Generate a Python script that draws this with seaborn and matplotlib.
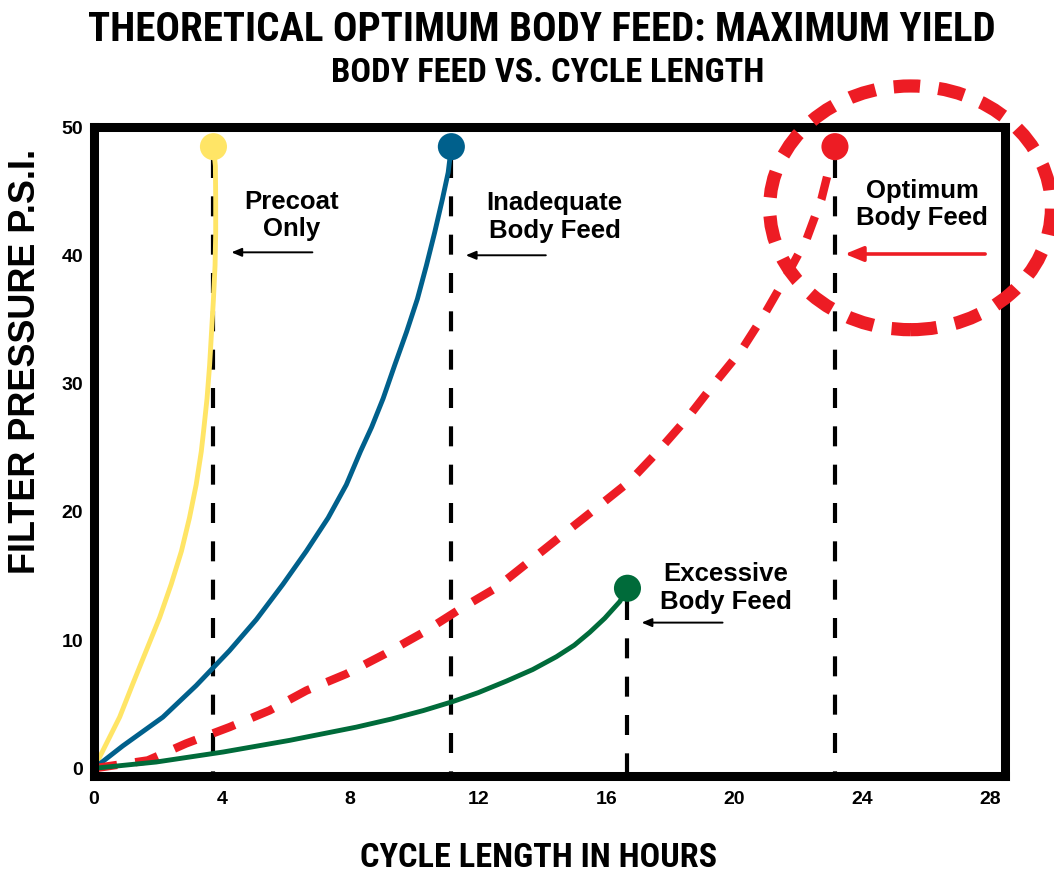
import numpy as np
import pandas as pd
import seaborn as sns
import matplotlib
matplotlib.use("Agg")
import matplotlib.pyplot as plt
from matplotlib.patches import Ellipse

# values (hours, psi)
precoat_hours = [0, 0.80, 1.21, 1.63, 2.05, 2.41, 2.73, 2.98, 3.19, 3.35, 3.42, 3.53,
                 3.61, 3.67, 3.73, 3.78, 3.80, 3.80, 3.79, 3.73]
precoat_psi = [0, 3.99, 6.58, 9.17, 11.76, 14.35, 16.93, 19.52, 22.11, 24.7, 26.25, 28.84,
               31.43, 34.02, 36.6, 39.2, 41.79, 44.4, 46.97, 48.47]

inadequate_hours = [0, 0.9, 2.15, 3.19, 4.23, 5.07, 5.90, 6.63, 7.31, 7.88, 8.32, 8.67,
                    9.03, 9.39, 9.76, 10.10, 10.38, 10.64, 10.88, 11.06, 11.16]
inadequate_psi = [0, 1.75, 3.99, 6.45, 9.17, 11.6, 14.35, 16.93, 19.52, 22.11, 24.7, 26.6,
                  28.84, 31.43, 34.02, 36.6, 39.2, 41.79, 44.37, 46.45, 48.47]

optimum_hours = [0, 1.68, 2.88, 4.23, 5.48, 6.63, 7.88, 9.08, 10.28, 11.42, 12.57, 13.61,
                 14.65, 15.69, 16.73, 17.61, 18.56, 19.34, 20.22, 20.95, 21.63, 22.26,
                 22.72, 22.98, 23.14]
optimum_psi = [0, 0.62, 1.94, 3.21, 4.51, 6.06, 7.36, 8.91, 10.59, 12.4, 14.09, 16.16,
               18.24, 20.3, 22.38, 24.7, 27.4, 29.9, 32.6, 35.45, 38.4, 41.3,
               44.4, 47.0, 48.47]

excessive_hours = [0, 1.94, 4.03, 6.11, 8.19, 9.3, 10.28, 11.2, 12.0, 12.88, 13.7, 14.44,
                   15.0, 15.48, 15.95, 16.42, 16.66]
excessive_psi = [0, 0.49, 1.27, 2.18, 3.21, 3.85, 4.5, 5.2, 5.9, 6.8, 7.7, 8.7,
                 9.6, 10.6, 11.7, 13.0, 14.04]

curve_names = ["Precoat\nOnly", "Inadequate\nBody Feed", "Optimum\nBody Feed", "Excessive\nBody Feed"]
curve_colors = ["#FFE566", "#00608C", "#ED1C24", "#006B3A"]

x_ticks = [0, 4, 8, 12, 16, 20, 24, 28]
y_ticks = [0, 10, 20, 30, 40, 50]

title = "THEORETICAL OPTIMUM BODY FEED: MAXIMUM YIELD"
subtitle = "BODY FEED VS. CYCLE LENGTH"
x_label = "CYCLE LENGTH IN HOURS"
y_label = "FILTER PRESSURE P.S.I."

# label placement (data coords): text centre, arrow tail, arrow tip
label_pos = [(6.17, 43.1), (14.39, 43.0), (25.86, 43.96), (19.73, 14.08)]
arrow_tail = [(6.82, 40.23), (14.11, 40.0), (27.83, 40.1), (19.63, 11.36)]
arrow_tip = [(4.29, 40.23), (11.61, 40.0), (23.45, 40.1), (17.10, 11.36)]

all_hours = [precoat_hours, inadequate_hours, optimum_hours, excessive_hours]
all_psi = [precoat_psi, inadequate_psi, optimum_psi, excessive_psi]

df = pd.concat([
    pd.DataFrame({"hours": h, "psi": p, "curve": n})
    for h, p, n in zip(all_hours, all_psi, curve_names)
], ignore_index=True)
ends = df.groupby("curve", sort=False).tail(1)

sns.set_style("white")
plt.rcParams["font.family"] = ["Liberation Sans", "DejaVu Sans"]
plt.rcParams["font.weight"] = "bold"
plt.rcParams["text.color"] = "black"
plt.rcParams["axes.labelcolor"] = "black"
plt.rcParams["xtick.color"] = "black"
plt.rcParams["ytick.color"] = "black"
narrow = ["Roboto Condensed", "Liberation Sans Narrow", "DejaVu Sans Condensed",
          "Liberation Sans", "DejaVu Sans"]

fig = plt.figure(figsize=(10.54, 8.73), dpi=100)
ax = fig.add_axes([0.0892, 0.1111, 0.8643, 0.7434])

# vertical dashed drop lines from each end point
for _, row in ends.iterrows():
    ax.plot([row["hours"], row["hours"]], [row["psi"] - 0.9, -0.6], color="black",
            lw=3, dashes=(4.8, 4.4), zorder=1.5)

for name, color in zip(curve_names, curve_colors):
    sub = df[df["curve"] == name]
    if name.startswith("Optimum"):
        sns.lineplot(data=sub, x="hours", y="psi", sort=False, estimator=None, ax=ax,
                     color=color, lw=6, dashes=(2.8, 2.2), legend=False, zorder=2)
    else:
        sns.lineplot(data=sub, x="hours", y="psi", sort=False, estimator=None, ax=ax,
                     color=color, lw=3.5, legend=False, zorder=2)

sns.scatterplot(data=ends, x="hours", y="psi", hue="curve", palette=curve_colors,
                s=380, linewidth=0, legend=False, ax=ax, zorder=3, clip_on=False)

for name, color, pos, tail, tip in zip(curve_names, curve_colors, label_pos, arrow_tail, arrow_tip):
    ax.text(pos[0], pos[1], name, ha="center", va="center", fontsize=18.5,
            fontweight="bold", linespacing=1.2, color="black")
    red = name.startswith("Optimum")
    ax.annotate("", xy=tip, xytext=tail,
                arrowprops=dict(arrowstyle="-|>,head_length=1.1,head_width=0.45" if red
                                else "-|>,head_length=0.6,head_width=0.25",
                                color=color if red else "black",
                                lw=2.6 if red else 1.4, shrinkA=0, shrinkB=0))

# highlight circle round the optimum end point
ax.add_patch(Ellipse((25.5, 43.7), 8.8, 19.0, fill=False, ec="#ED1C24", lw=9.5,
                     linestyle=(0, (2.0, 1.4)), clip_on=False, zorder=4))

ax.set_xlim(0, 28.45)
ax.set_ylim(-0.6, 50)
ax.set_xticks(x_ticks)
ax.set_yticks(y_ticks)
ax.set_xticklabels([str(t) for t in x_ticks], fontsize=14, fontweight="bold")
ax.set_yticklabels([str(t) for t in y_ticks], fontsize=14, fontweight="bold")
ax.tick_params(axis="x", length=0, pad=11)
ax.tick_params(axis="y", length=0, pad=8)
for sp in ax.spines.values():
    sp.set_visible(True)
    sp.set_linewidth(6.5)
    sp.set_color("black")
    sp.set_capstyle("projecting")

xl = ax.set_xlabel(x_label, fontsize=24, fontweight="bold", family=narrow)
ax.xaxis.set_label_coords(0.488, -0.126)
xl.set_va("center")
yl = ax.set_ylabel(y_label, fontsize=24, fontweight="bold")
ax.yaxis.set_label_coords(-0.0757, 0.639)
yl.set_va("center")

t1 = fig.text(0.514, 0.966, title, ha="center", va="center", fontsize=28,
              fontweight="bold", family=narrow)
t2 = fig.text(0.5195, 0.9165, subtitle, ha="center", va="center", fontsize=24,
              fontweight="bold", family=narrow)

# size the headings to the widths they take in the reference
fig.canvas.draw()
for txt, target, vertical in [(t1, 908, False), (t2, 433, False), (xl, 358, False), (yl, 425, True)]:
    bb = txt.get_window_extent()
    size = bb.height if vertical else bb.width
    txt.set_fontsize(txt.get_fontsize() * target / size)

fig.savefig("out.png", dpi=100)
